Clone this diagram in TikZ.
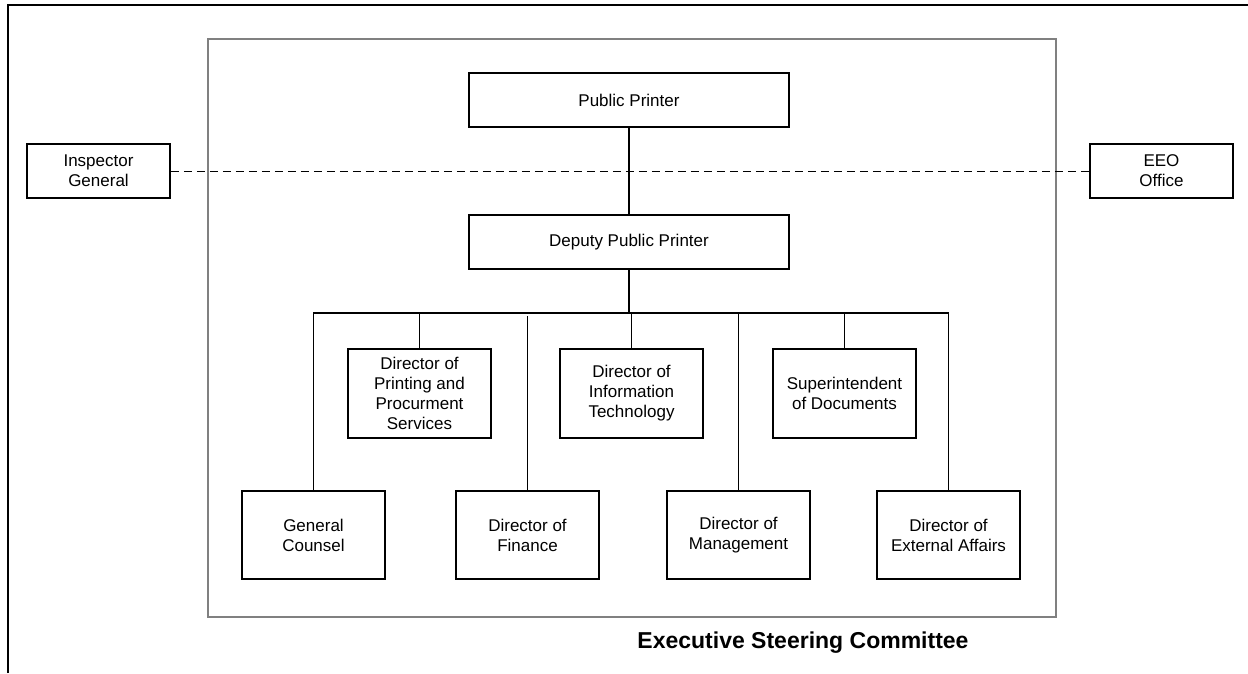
\documentclass[tikz,border=0pt]{standalone}
\usepackage{fontspec}
\setmainfont{Liberation Sans}
\usetikzlibrary{positioning}
\tikzset{
    office/.style={draw, line width=1.8pt, align=center, inner sep=0pt,
        font=\fontsize{17}{20}\selectfont},
    wide/.style={office, minimum width=320pt, minimum height=54pt},
    side/.style={office, minimum width=143pt, minimum height=54pt},
    mid/.style={office, minimum width=143pt, minimum height=89pt},
    low/.style={office, minimum width=143pt, minimum height=88pt},
    link/.style={line width=1.8pt}
}
\begin{document}
\begin{tikzpicture}[x=1pt, y=-1pt]
        \useasboundingbox (0,0) rectangle (1248,673);
        \draw[line width=2.2pt] (8,673) -- (8,5) -- (1248,5);
        \draw[black!50, line width=1.6pt] (208,39) rectangle (1056,617);
        \node[wide] (pp) at (629,100) {Public Printer};
        \node[wide] (dpp) at (629,242) {Deputy Public Printer};
        \node[side] (ig) at (98.5,171) {Inspector\\General};
        \node[side] (eeo) at (1161.5,171) {EEO\\Office};
        \draw[dash pattern=on 8pt off 5pt, line width=1pt] (ig) -- (eeo);
        \node[mid] (pps) at (419.5,393.5) {Director of\\Printing and\\Procurment\\Services};
        \node[mid] (it) at (631.5,393.5) {Director of\\Information\\Technology};
        \node[mid] (sod) at (844.5,393.5) {Superintendent\\of Documents};
        \node[low] (gc) at (313.5,535) {General\\Counsel};
        \node[low] (fin) at (527.5,535) {Director of\\Finance};
        \node[low] (mgt) at (738.5,535) {Director of\\Management};
        \node[low] (ea) at (948.5,535) {Director of\\External Affairs};
        \coordinate (bar) at (629,313);
        \draw[link] (pp) -- (dpp);
        \draw[link] (dpp) -- (bar);
        \draw[link] (gc.north) |- (bar) -| (ea.north);
        \draw[link] (pps.north) -- (pps.north |- bar);
        \draw[link] (it.north) -- (it.north |- bar);
        \draw[link] (sod.north) -- (sod.north |- bar);
        \draw[link] (fin.north) -- ([yshift=-3pt]fin.north |- bar);
        \draw[link] (mgt.north) -- (mgt.north |- bar);
        \node[font=\fontsize{23}{27}\selectfont\bfseries] (esc) at (803,643) {Executive Steering Committee};
    \end{tikzpicture}
\end{document}
